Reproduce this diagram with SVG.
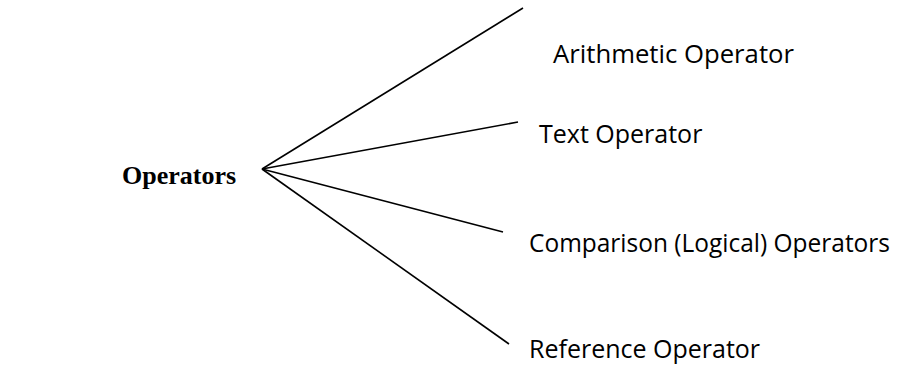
<svg xmlns="http://www.w3.org/2000/svg" width="908" height="367" viewBox="0 0 908 367">
<style>
.lbl{font-family:"Open Sans","Liberation Sans",sans-serif;font-size:25px;fill:#000}
.root{font-family:"Liberation Serif","Times New Roman",serif;font-size:26px;font-weight:bold;fill:#000}
.conn line{stroke:#000;stroke-width:1.6;fill:none}
</style>
<rect width="908" height="367" fill="#fff"/>
<g id="connectors" class="conn">
<line x1="262" y1="169" x2="523" y2="8"/>
<line x1="262" y1="169" x2="518" y2="122"/>
<line x1="262" y1="169" x2="503" y2="232"/>
<line x1="262" y1="169" x2="509" y2="344"/>
</g>
<g id="operators"><text class="root" x="122" y="184">Operators</text></g>
<g id="arithmetic"><text class="lbl" x="553" y="63" textLength="241" lengthAdjust="spacingAndGlyphs">Arithmetic Operator</text></g>
<g id="text-op"><text class="lbl" x="539" y="143">Text Operator</text></g>
<g id="comparison"><text class="lbl" x="529" y="252" textLength="361" lengthAdjust="spacingAndGlyphs">Comparison (Logical) Operators</text></g>
<g id="reference"><text class="lbl" x="529" y="358">Reference Operator</text></g>
</svg>
